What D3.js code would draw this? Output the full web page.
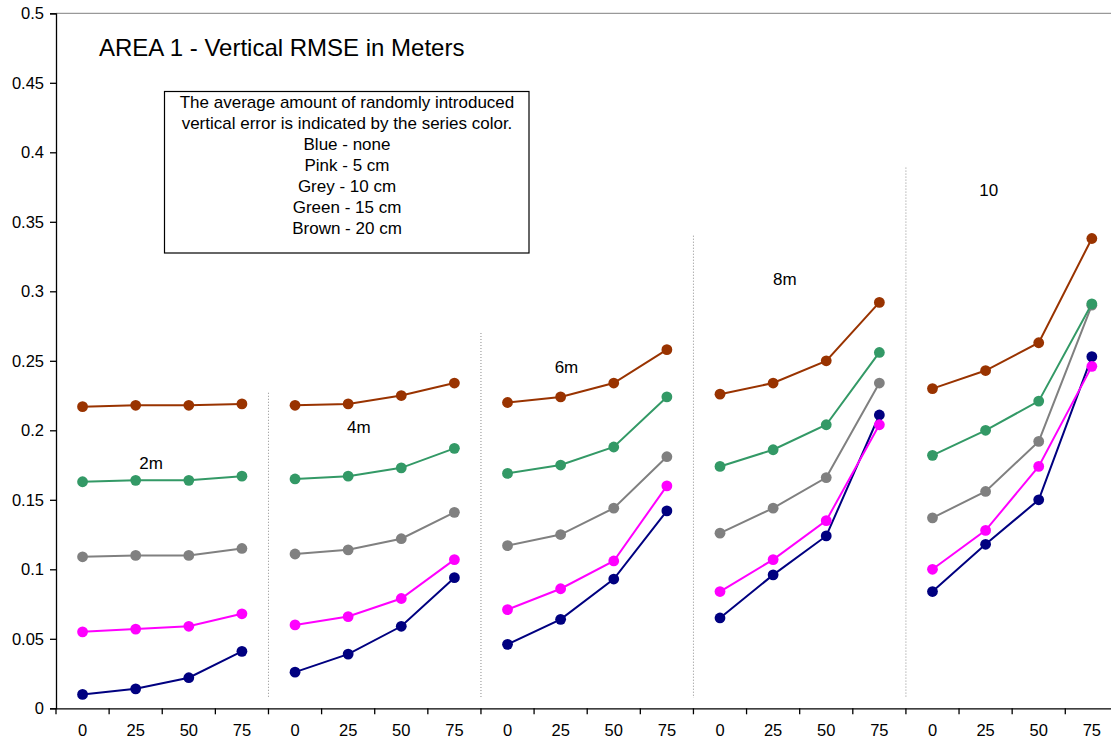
<!DOCTYPE html>
<html>
<head>
<meta charset="utf-8">
<script src="https://cdn.jsdelivr.net/npm/d3@7"></script>
<style>
  html, body { margin: 0; padding: 0; background: #fff; }
  svg { display: block; font-family: "Liberation Sans", Arial, sans-serif; }
</style>
</head>
<body>
<svg id="chart" width="1111" height="744"></svg>
<script>
// Percent of points removed, repeated for each grid spacing group
const tickLabels = ["0", "25", "50", "75"];
const groups = ["2m", "4m", "6m", "8m", "10"];

// Vertical RMSE (m) per grid spacing group, 4 values each (0/25/50/75)
const blueNone = [
  [0.010, 0.014, 0.022, 0.041],
  [0.026, 0.039, 0.059, 0.094],
  [0.046, 0.064, 0.093, 0.142],
  [0.065, 0.096, 0.124, 0.211],
  [0.084, 0.118, 0.150, 0.253]
];
const pink5cm = [
  [0.055, 0.057, 0.059, 0.068],
  [0.060, 0.066, 0.079, 0.107],
  [0.071, 0.086, 0.106, 0.160],
  [0.084, 0.107, 0.135, 0.204],
  [0.100, 0.128, 0.174, 0.246]
];
const grey10cm = [
  [0.109, 0.110, 0.110, 0.115],
  [0.111, 0.114, 0.122, 0.141],
  [0.117, 0.125, 0.144, 0.181],
  [0.126, 0.144, 0.166, 0.234],
  [0.137, 0.156, 0.192, 0.290]
];
const green15cm = [
  [0.163, 0.164, 0.164, 0.167],
  [0.165, 0.167, 0.173, 0.187],
  [0.169, 0.175, 0.188, 0.224],
  [0.174, 0.186, 0.204, 0.256],
  [0.182, 0.200, 0.221, 0.291]
];
const brown20cm = [
  [0.217, 0.218, 0.218, 0.219],
  [0.218, 0.219, 0.225, 0.234],
  [0.220, 0.224, 0.234, 0.258],
  [0.226, 0.234, 0.250, 0.292],
  [0.230, 0.243, 0.263, 0.338]
];

const yTicks = [0, 0.05, 0.1, 0.15, 0.2, 0.25, 0.3, 0.35, 0.4, 0.45, 0.5];

const legendLines = [
  "The average amount of randomly introduced",
  "vertical error is indicated by the series color.",
  "Blue - none",
  "Pink - 5 cm",
  "Grey - 10 cm",
  "Green - 15 cm",
  "Brown - 20 cm"
];

const series = [
  { name: "Blue",  color: "#000080", values: blueNone },
  { name: "Pink",  color: "#FF00FF", values: pink5cm },
  { name: "Grey",  color: "#808080", values: grey10cm },
  { name: "Green", color: "#339966", values: green15cm },
  { name: "Brown", color: "#993300", values: brown20cm }
];

// Group label anchors (category units, value units) and divider tops (value units)
const groupLabelPos = [[1.79, 0.1767], [5.70, 0.2026], [9.61, 0.2458], [13.72, 0.3088], [17.56, 0.3729]];
const dividerTops = [0.227, 0.270, 0.340, 0.389];

const FONT = "Liberation Sans, Arial, sans-serif";
const svg = d3.select("#chart");
const plotLeft = 56, plotTop = 13.3, plotBottom = 708.3, bandW = 53.12;
const nCat = groups.length * tickLabels.length;
const plotRight = plotLeft + nCat * bandW;

const cats = d3.range(nCat);
const x = d3.scaleBand().domain(cats).range([plotLeft, plotRight]).padding(0);
const xu = d3.scaleLinear().domain([0, nCat]).range([plotLeft, plotRight]);
const y = d3.scaleLinear().domain([0, 0.5]).range([plotBottom, plotTop]);

// Top border of plot area
svg.append("line")
  .attr("x1", plotLeft).attr("x2", plotRight)
  .attr("y1", plotTop).attr("y2", plotTop)
  .attr("stroke", "#808080").attr("stroke-width", 1);

// Y axis
const yAxis = svg.append("g")
  .attr("transform", `translate(${plotLeft},0)`)
  .call(d3.axisLeft(y).tickValues(yTicks).tickSize(6).tickPadding(6)
    .tickFormat(d => String(+d.toFixed(2))));
yAxis.selectAll("path, line").attr("stroke", "#000").attr("stroke-width", 1.3);
yAxis.selectAll("text").attr("font-size", 16.5).attr("fill", "#000")
  .attr("font-family", FONT);

// X axis labels at category centers
const xAxis = svg.append("g")
  .attr("transform", `translate(0,${plotBottom})`)
  .call(d3.axisBottom(x).tickSize(0).tickPadding(16)
    .tickFormat(i => tickLabels[i % tickLabels.length]));
xAxis.select("path").attr("stroke", "#000").attr("stroke-width", 1.3);
xAxis.selectAll("text").attr("font-size", 16.5).attr("fill", "#000")
  .attr("font-family", FONT);

// X tick marks at category boundaries
svg.append("g").selectAll("line")
  .data(d3.range(nCat + 1))
  .join("line")
  .attr("x1", i => xu(i)).attr("x2", i => xu(i))
  .attr("y1", plotBottom).attr("y2", plotBottom + 6)
  .attr("stroke", "#000").attr("stroke-width", 1.3);

// Dotted dividers between groups
svg.append("g").selectAll("line")
  .data(dividerTops)
  .join("line")
  .attr("x1", (d, i) => xu((i + 1) * tickLabels.length))
  .attr("x2", (d, i) => xu((i + 1) * tickLabels.length))
  .attr("y1", d => y(d))
  .attr("y2", y(0.0075))
  .attr("stroke", "#8c8c8c").attr("stroke-width", 1)
  .attr("stroke-dasharray", "1,2");

// Series lines and markers, one segment per group
const line = d3.line()
  .x(d => x(d.i) + x.bandwidth() / 2)
  .y(d => y(d.v));

series.forEach(s => {
  const g = svg.append("g");
  s.values.forEach((vals, gi) => {
    const pts = vals.map((v, k) => ({ i: gi * tickLabels.length + k, v }));
    g.append("path")
      .attr("d", line(pts))
      .attr("fill", "none")
      .attr("stroke", s.color)
      .attr("stroke-width", 2);
    g.selectAll(null)
      .data(pts)
      .join("circle")
      .attr("cx", d => x(d.i) + x.bandwidth() / 2)
      .attr("cy", d => y(d.v))
      .attr("r", 5.4)
      .attr("fill", s.color);
  });
});

// Group labels
svg.append("g").selectAll("text")
  .data(groups)
  .join("text")
  .attr("x", (d, i) => xu(groupLabelPos[i][0]))
  .attr("y", (d, i) => y(groupLabelPos[i][1]))
  .attr("dy", "0.35em")
  .attr("text-anchor", "middle")
  .attr("font-size", 17)
  .attr("fill", "#000")
  .text(d => d);

// Title
svg.append("text")
  .attr("x", 99).attr("y", 55.5)
  .attr("font-size", 24)
  .attr("fill", "#000")
  .text("AREA 1 - Vertical RMSE in Meters");

// Explanatory box
const box = svg.append("g");
box.append("rect")
  .attr("x", 164.5).attr("y", 91.5)
  .attr("width", 364.5).attr("height", 161.5)
  .attr("fill", "#fff")
  .attr("stroke", "#000").attr("stroke-width", 1.2);
box.selectAll("text")
  .data(legendLines)
  .join("text")
  .attr("x", 347)
  .attr("y", (d, i) => 108 + i * 21)
  .attr("text-anchor", "middle")
  .attr("font-size", 17)
  .attr("fill", "#000")
  .text(d => d);
</script>
</body>
</html>
